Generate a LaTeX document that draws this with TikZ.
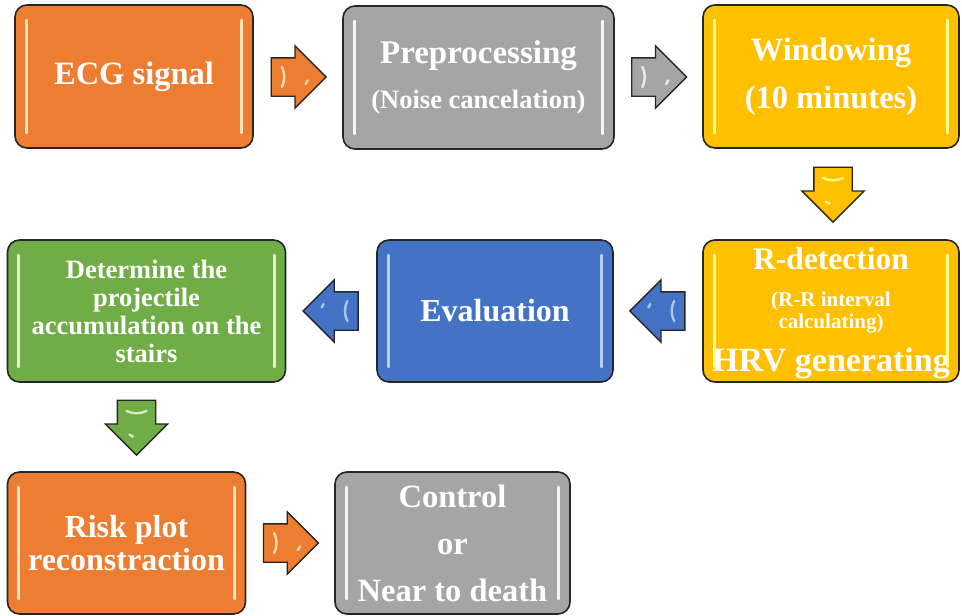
\documentclass[tikz,border=0pt]{standalone}
\usepackage{fontspec}
\setmainfont{Liberation Serif}
\usetikzlibrary{shapes.arrows,calc}
\definecolor{cOrange}{HTML}{ED7D31}
\definecolor{cGray}{HTML}{A5A5A5}
\definecolor{cYellow}{HTML}{FFC000}
\definecolor{cBlue}{HTML}{4472C4}
\definecolor{cGreen}{HTML}{70AD47}
\definecolor{boxline}{HTML}{262626}
\definecolor{gOrange}{HTML}{FFE3BF}
\definecolor{gGray}{HTML}{F4F4F4}
\definecolor{gYellow}{HTML}{FFFF8C}
\definecolor{gBlue}{HTML}{B4D0F4}
\definecolor{gGreen}{HTML}{E4F3CF}
\tikzset{
  box/.style={draw=boxline, line width=1.6pt, rounded corners=12pt, align=center,
    text=white, inner sep=0pt},
  barrow/.style={single arrow, draw=boxline, line width=1.4pt, anchor=tail,
    minimum height=55pt, minimum width=61pt, single arrow head extend=12pt},
  harrow/.style={barrow, inner xsep=0pt, inner ysep=18.5pt},
  varrow/.style={barrow, inner ysep=0pt, inner xsep=18.5pt, shape border rotate=270},
  glint/.style={line width=3pt, line cap=round},
  aglint/.style={line width=2.4pt, line cap=round, opacity=0.9},
}
\newcommand\glints[2]{%
  \draw[glint,#2] ([xshift=12pt,yshift=-16pt]#1.north west) -- ([xshift=12pt,yshift=16pt]#1.south west);
  \draw[glint,#2] ([xshift=-12pt,yshift=-16pt]#1.north east) -- ([xshift=-12pt,yshift=16pt]#1.south east);
}
\newcommand\arrowglints[2]{%
  \coordinate (#1gp) at ($(#1.tail)!0.2!(#1.tip)$);
  \coordinate (#1gq) at ($(#1.tail)!0.62!(#1.tip)$);
  \draw[aglint,#2] ($(#1gp)!10pt!90:(#1.tip)$) to[bend left=25] ($(#1gp)!10pt!-90:(#1.tip)$);
  \draw[aglint,#2] ($(#1gq)!7pt!-90:(#1.tip)$) -- ($(#1gq)!4pt!-60:(#1.tip)$);
}
\begin{document}
\begin{tikzpicture}[x=1pt,y=-1pt]
\useasboundingbox (0,0) rectangle (962,616);
% row 1
\node[box, fill=cOrange, minimum width=238pt, minimum height=143pt,
  font=\bfseries\fontsize{32.5}{40}\selectfont] (ecg) at (134,76.5) {ECG signal};
\node[box, fill=cGray, minimum width=271pt, minimum height=143pt,
  font=\bfseries\fontsize{33}{45}\selectfont] (pre) at (478.5,77.5)
  {Preprocessing\\\fontsize{26.5}{45}\selectfont (Noise cancelation)};
\node[box, fill=cYellow, minimum width=256pt, minimum height=143pt,
  font=\bfseries\fontsize{32.5}{48}\selectfont] (win) at (831,76.5)
  {Windowing\\(10 minutes)};
% row 2
\node[box, fill=cYellow, minimum width=256pt, minimum height=142pt,
  font=\bfseries\fontsize{31.5}{22}\selectfont] (rdet) at (831,311)
  {\rule{0pt}{26.5pt}R-detection\\[15pt]\fontsize{21}{22}\selectfont (R-R interval\\\fontsize{21}{22}\selectfont calculating)\\[14pt]\fontsize{34}{22}\selectfont HRV generating};
\node[box, fill=cBlue, minimum width=236pt, minimum height=142pt,
  font=\bfseries\fontsize{32}{40}\selectfont] (eval) at (495,311) {Evaluation};
\node[box, fill=cGreen, minimum width=278pt, minimum height=142pt,
  font=\bfseries\fontsize{26.5}{28}\selectfont] (green) at (146.5,311)
  {Determine the\\projectile\\accumulation on the\\stairs};
% row 3
\node[box, fill=cOrange, minimum width=238pt, minimum height=142pt,
  font=\bfseries\fontsize{32}{33}\selectfont] (risk) at (126.5,543)
  {Risk plot\\reconstraction};
\node[box, fill=cGray, minimum width=235pt, minimum height=142pt,
  font=\bfseries\fontsize{32.5}{47}\selectfont] (ctrl) at (452.5,543)
  {Control\\or\\Near to death};
% glints
\glints{ecg}{gOrange}
\glints{pre}{gGray}
\glints{win}{gYellow}
\glints{rdet}{gYellow}
\glints{eval}{gBlue}
\glints{green}{gGreen}
\glints{risk}{gOrange}
\glints{ctrl}{gGray}
% block arrows
\node[harrow, fill=cOrange] (a1) at ($(ecg.east)!0.5!(pre.west)+(-27.5,0)$) {};
\node[harrow, fill=cGray] (a2) at ($(pre.east)!0.5!(win.west)+(-27.5,0)$) {};
\node[varrow, fill=cYellow] (a3) at ($(win.south)!0.5!(rdet.north)+(2,-27.5)$) {};
\node[harrow, fill=cBlue, shape border rotate=180] (a4) at ($(rdet.west)!0.5!(eval.east)+(27.5,0)$) {};
\node[harrow, fill=cBlue, shape border rotate=180] (a5) at ($(eval.west)!0.5!(green.east)+(27.5,0)$) {};
\node[varrow, fill=cGreen] (a6) at ($(green.south)!0.5!(risk.north)+(0,-27.5)$) {};
\node[harrow, fill=cOrange] (a7) at ($(risk.east)!0.5!(ctrl.west)+(-27.5,0)$) {};
\arrowglints{a1}{gOrange}
\arrowglints{a2}{gGray}
\arrowglints{a3}{gYellow}
\arrowglints{a4}{gBlue}
\arrowglints{a5}{gBlue}
\arrowglints{a6}{gGreen}
\arrowglints{a7}{gOrange}
\end{tikzpicture}
\end{document}
